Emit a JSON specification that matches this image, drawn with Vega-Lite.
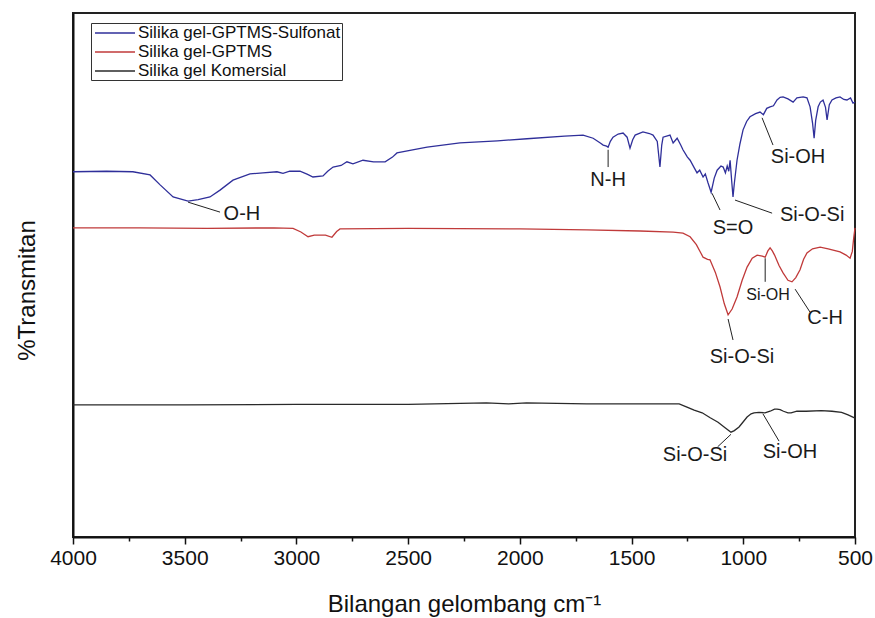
{
  "$schema": "https://vega.github.io/schema/vega-lite/v6.json",
  "width": 782,
  "height": 524,
  "autosize": "none",
  "padding": {"left": 73, "top": 13, "right": 20, "bottom": 81},
  "background": "white",
  "datasets": {
    "spectra": [
      {"series":"Silika gel-GPTMS-Sulfonat","wn":4000,"t":69.7},{"series":"Silika gel-GPTMS-Sulfonat","wn":3850,"t":69.8},{"series":"Silika gel-GPTMS-Sulfonat","wn":3732,"t":69.7},{"series":"Silika gel-GPTMS-Sulfonat","wn":3655,"t":69.1},{"series":"Silika gel-GPTMS-Sulfonat","wn":3610,"t":67.2},{"series":"Silika gel-GPTMS-Sulfonat","wn":3552,"t":64.9},{"series":"Silika gel-GPTMS-Sulfonat","wn":3485,"t":64.1},{"series":"Silika gel-GPTMS-Sulfonat","wn":3440,"t":64.4},{"series":"Silika gel-GPTMS-Sulfonat","wn":3387,"t":64.9},{"series":"Silika gel-GPTMS-Sulfonat","wn":3342,"t":66.2},{"series":"Silika gel-GPTMS-Sulfonat","wn":3284,"t":68.1},{"series":"Silika gel-GPTMS-Sulfonat","wn":3208,"t":69.3},{"series":"Silika gel-GPTMS-Sulfonat","wn":3150,"t":69.5},{"series":"Silika gel-GPTMS-Sulfonat","wn":3087,"t":69.7},{"series":"Silika gel-GPTMS-Sulfonat","wn":3060,"t":69.4},{"series":"Silika gel-GPTMS-Sulfonat","wn":3030,"t":69.8},{"series":"Silika gel-GPTMS-Sulfonat","wn":2984,"t":69.8},{"series":"Silika gel-GPTMS-Sulfonat","wn":2950,"t":69.2},{"series":"Silika gel-GPTMS-Sulfonat","wn":2926,"t":68.7},{"series":"Silika gel-GPTMS-Sulfonat","wn":2881,"t":68.9},{"series":"Silika gel-GPTMS-Sulfonat","wn":2860,"t":69.8},{"series":"Silika gel-GPTMS-Sulfonat","wn":2836,"t":70.6},{"series":"Silika gel-GPTMS-Sulfonat","wn":2800,"t":70.9},{"series":"Silika gel-GPTMS-Sulfonat","wn":2774,"t":71.6},{"series":"Silika gel-GPTMS-Sulfonat","wn":2747,"t":71.2},{"series":"Silika gel-GPTMS-Sulfonat","wn":2702,"t":71.9},{"series":"Silika gel-GPTMS-Sulfonat","wn":2655,"t":71.6},{"series":"Silika gel-GPTMS-Sulfonat","wn":2603,"t":71.6},{"series":"Silika gel-GPTMS-Sulfonat","wn":2570,"t":72.5},{"series":"Silika gel-GPTMS-Sulfonat","wn":2550,"t":73.3},{"series":"Silika gel-GPTMS-Sulfonat","wn":2480,"t":73.9},{"series":"Silika gel-GPTMS-Sulfonat","wn":2415,"t":74.4},{"series":"Silika gel-GPTMS-Sulfonat","wn":2268,"t":75.2},{"series":"Silika gel-GPTMS-Sulfonat","wn":2100,"t":75.6},{"series":"Silika gel-GPTMS-Sulfonat","wn":1968,"t":76.0},{"series":"Silika gel-GPTMS-Sulfonat","wn":1800,"t":76.5},{"series":"Silika gel-GPTMS-Sulfonat","wn":1717,"t":76.7},{"series":"Silika gel-GPTMS-Sulfonat","wn":1672,"t":76.1},{"series":"Silika gel-GPTMS-Sulfonat","wn":1640,"t":75.2},{"series":"Silika gel-GPTMS-Sulfonat","wn":1627,"t":74.8},{"series":"Silika gel-GPTMS-Sulfonat","wn":1612,"t":74.6},{"series":"Silika gel-GPTMS-Sulfonat","wn":1605,"t":74.4},{"series":"Silika gel-GPTMS-Sulfonat","wn":1595,"t":75.5},{"series":"Silika gel-GPTMS-Sulfonat","wn":1583,"t":76.3},{"series":"Silika gel-GPTMS-Sulfonat","wn":1560,"t":76.9},{"series":"Silika gel-GPTMS-Sulfonat","wn":1538,"t":77.1},{"series":"Silika gel-GPTMS-Sulfonat","wn":1520,"t":76.3},{"series":"Silika gel-GPTMS-Sulfonat","wn":1507,"t":74.2},{"series":"Silika gel-GPTMS-Sulfonat","wn":1495,"t":75.8},{"series":"Silika gel-GPTMS-Sulfonat","wn":1484,"t":76.7},{"series":"Silika gel-GPTMS-Sulfonat","wn":1449,"t":77.3},{"series":"Silika gel-GPTMS-Sulfonat","wn":1420,"t":77.0},{"series":"Silika gel-GPTMS-Sulfonat","wn":1404,"t":76.7},{"series":"Silika gel-GPTMS-Sulfonat","wn":1385,"t":75.5},{"series":"Silika gel-GPTMS-Sulfonat","wn":1373,"t":70.6},{"series":"Silika gel-GPTMS-Sulfonat","wn":1365,"t":74.8},{"series":"Silika gel-GPTMS-Sulfonat","wn":1359,"t":76.3},{"series":"Silika gel-GPTMS-Sulfonat","wn":1328,"t":76.7},{"series":"Silika gel-GPTMS-Sulfonat","wn":1314,"t":75.2},{"series":"Silika gel-GPTMS-Sulfonat","wn":1296,"t":76.1},{"series":"Silika gel-GPTMS-Sulfonat","wn":1280,"t":74.8},{"series":"Silika gel-GPTMS-Sulfonat","wn":1270,"t":73.9},{"series":"Silika gel-GPTMS-Sulfonat","wn":1250,"t":72.5},{"series":"Silika gel-GPTMS-Sulfonat","wn":1238,"t":71.9},{"series":"Silika gel-GPTMS-Sulfonat","wn":1220,"t":70.5},{"series":"Silika gel-GPTMS-Sulfonat","wn":1207,"t":69.5},{"series":"Silika gel-GPTMS-Sulfonat","wn":1195,"t":70.0},{"series":"Silika gel-GPTMS-Sulfonat","wn":1180,"t":68.7},{"series":"Silika gel-GPTMS-Sulfonat","wn":1170,"t":69.3},{"series":"Silika gel-GPTMS-Sulfonat","wn":1158,"t":67.6},{"series":"Silika gel-GPTMS-Sulfonat","wn":1144,"t":65.8},{"series":"Silika gel-GPTMS-Sulfonat","wn":1130,"t":68.5},{"series":"Silika gel-GPTMS-Sulfonat","wn":1117,"t":70.0},{"series":"Silika gel-GPTMS-Sulfonat","wn":1100,"t":70.8},{"series":"Silika gel-GPTMS-Sulfonat","wn":1090,"t":70.6},{"series":"Silika gel-GPTMS-Sulfonat","wn":1080,"t":69.5},{"series":"Silika gel-GPTMS-Sulfonat","wn":1072,"t":70.8},{"series":"Silika gel-GPTMS-Sulfonat","wn":1065,"t":69.8},{"series":"Silika gel-GPTMS-Sulfonat","wn":1059,"t":71.9},{"series":"Silika gel-GPTMS-Sulfonat","wn":1052,"t":68.0},{"series":"Silika gel-GPTMS-Sulfonat","wn":1046,"t":64.9},{"series":"Silika gel-GPTMS-Sulfonat","wn":1040,"t":67.5},{"series":"Silika gel-GPTMS-Sulfonat","wn":1028,"t":71.9},{"series":"Silika gel-GPTMS-Sulfonat","wn":1015,"t":75.0},{"series":"Silika gel-GPTMS-Sulfonat","wn":1001,"t":77.7},{"series":"Silika gel-GPTMS-Sulfonat","wn":985,"t":79.3},{"series":"Silika gel-GPTMS-Sulfonat","wn":970,"t":80.2},{"series":"Silika gel-GPTMS-Sulfonat","wn":945,"t":80.8},{"series":"Silika gel-GPTMS-Sulfonat","wn":925,"t":81.1},{"series":"Silika gel-GPTMS-Sulfonat","wn":910,"t":80.6},{"series":"Silika gel-GPTMS-Sulfonat","wn":895,"t":81.8},{"series":"Silika gel-GPTMS-Sulfonat","wn":880,"t":82.1},{"series":"Silika gel-GPTMS-Sulfonat","wn":865,"t":82.3},{"series":"Silika gel-GPTMS-Sulfonat","wn":849,"t":83.4},{"series":"Silika gel-GPTMS-Sulfonat","wn":835,"t":83.9},{"series":"Silika gel-GPTMS-Sulfonat","wn":822,"t":84.0},{"series":"Silika gel-GPTMS-Sulfonat","wn":800,"t":83.6},{"series":"Silika gel-GPTMS-Sulfonat","wn":777,"t":83.0},{"series":"Silika gel-GPTMS-Sulfonat","wn":760,"t":83.8},{"series":"Silika gel-GPTMS-Sulfonat","wn":732,"t":84.0},{"series":"Silika gel-GPTMS-Sulfonat","wn":715,"t":83.8},{"series":"Silika gel-GPTMS-Sulfonat","wn":701,"t":82.1},{"series":"Silika gel-GPTMS-Sulfonat","wn":690,"t":79.0},{"series":"Silika gel-GPTMS-Sulfonat","wn":683,"t":76.1},{"series":"Silika gel-GPTMS-Sulfonat","wn":676,"t":79.5},{"series":"Silika gel-GPTMS-Sulfonat","wn":665,"t":82.1},{"series":"Silika gel-GPTMS-Sulfonat","wn":655,"t":83.0},{"series":"Silika gel-GPTMS-Sulfonat","wn":643,"t":83.4},{"series":"Silika gel-GPTMS-Sulfonat","wn":632,"t":82.0},{"series":"Silika gel-GPTMS-Sulfonat","wn":625,"t":79.6},{"series":"Silika gel-GPTMS-Sulfonat","wn":615,"t":82.5},{"series":"Silika gel-GPTMS-Sulfonat","wn":603,"t":83.4},{"series":"Silika gel-GPTMS-Sulfonat","wn":585,"t":83.8},{"series":"Silika gel-GPTMS-Sulfonat","wn":567,"t":84.0},{"series":"Silika gel-GPTMS-Sulfonat","wn":550,"t":83.5},{"series":"Silika gel-GPTMS-Sulfonat","wn":536,"t":83.4},{"series":"Silika gel-GPTMS-Sulfonat","wn":520,"t":83.8},{"series":"Silika gel-GPTMS-Sulfonat","wn":509,"t":82.8},{"series":"Silika gel-GPTMS-Sulfonat","wn":500,"t":83.0},
      {"series":"Silika gel-GPTMS","wn":4000,"t":59.0},{"series":"Silika gel-GPTMS","wn":3700,"t":59.0},{"series":"Silika gel-GPTMS","wn":3400,"t":58.9},{"series":"Silika gel-GPTMS","wn":3100,"t":59.0},{"series":"Silika gel-GPTMS","wn":3015,"t":58.9},{"series":"Silika gel-GPTMS","wn":2980,"t":58.2},{"series":"Silika gel-GPTMS","wn":2948,"t":57.3},{"series":"Silika gel-GPTMS","wn":2920,"t":57.6},{"series":"Silika gel-GPTMS","wn":2894,"t":57.6},{"series":"Silika gel-GPTMS","wn":2870,"t":57.6},{"series":"Silika gel-GPTMS","wn":2841,"t":57.2},{"series":"Silika gel-GPTMS","wn":2820,"t":58.3},{"series":"Silika gel-GPTMS","wn":2805,"t":58.8},{"series":"Silika gel-GPTMS","wn":2500,"t":58.9},{"series":"Silika gel-GPTMS","wn":2000,"t":58.8},{"series":"Silika gel-GPTMS","wn":1700,"t":58.6},{"series":"Silika gel-GPTMS","wn":1462,"t":58.4},{"series":"Silika gel-GPTMS","wn":1314,"t":58.2},{"series":"Silika gel-GPTMS","wn":1270,"t":58.0},{"series":"Silika gel-GPTMS","wn":1238,"t":57.3},{"series":"Silika gel-GPTMS","wn":1210,"t":55.8},{"series":"Silika gel-GPTMS","wn":1190,"t":54.2},{"series":"Silika gel-GPTMS","wn":1180,"t":53.4},{"series":"Silika gel-GPTMS","wn":1160,"t":53.0},{"series":"Silika gel-GPTMS","wn":1149,"t":52.9},{"series":"Silika gel-GPTMS","wn":1125,"t":50.5},{"series":"Silika gel-GPTMS","wn":1104,"t":47.7},{"series":"Silika gel-GPTMS","wn":1085,"t":44.5},{"series":"Silika gel-GPTMS","wn":1068,"t":42.4},{"series":"Silika gel-GPTMS","wn":1050,"t":43.5},{"series":"Silika gel-GPTMS","wn":1028,"t":45.8},{"series":"Silika gel-GPTMS","wn":1005,"t":49.0},{"series":"Silika gel-GPTMS","wn":983,"t":51.5},{"series":"Silika gel-GPTMS","wn":960,"t":53.2},{"series":"Silika gel-GPTMS","wn":938,"t":53.8},{"series":"Silika gel-GPTMS","wn":915,"t":53.6},{"series":"Silika gel-GPTMS","wn":902,"t":53.4},{"series":"Silika gel-GPTMS","wn":890,"t":54.6},{"series":"Silika gel-GPTMS","wn":880,"t":55.2},{"series":"Silika gel-GPTMS","wn":870,"t":54.6},{"series":"Silika gel-GPTMS","wn":860,"t":53.8},{"series":"Silika gel-GPTMS","wn":840,"t":51.8},{"series":"Silika gel-GPTMS","wn":822,"t":50.4},{"series":"Silika gel-GPTMS","wn":800,"t":49.0},{"series":"Silika gel-GPTMS","wn":782,"t":48.7},{"series":"Silika gel-GPTMS","wn":765,"t":49.5},{"series":"Silika gel-GPTMS","wn":746,"t":51.0},{"series":"Silika gel-GPTMS","wn":730,"t":53.0},{"series":"Silika gel-GPTMS","wn":715,"t":54.2},{"series":"Silika gel-GPTMS","wn":690,"t":55.0},{"series":"Silika gel-GPTMS","wn":656,"t":55.3},{"series":"Silika gel-GPTMS","wn":620,"t":55.0},{"series":"Silika gel-GPTMS","wn":567,"t":54.4},{"series":"Silika gel-GPTMS","wn":540,"t":53.8},{"series":"Silika gel-GPTMS","wn":522,"t":53.2},{"series":"Silika gel-GPTMS","wn":512,"t":54.5},{"series":"Silika gel-GPTMS","wn":506,"t":57.0},{"series":"Silika gel-GPTMS","wn":500,"t":59.0},
      {"series":"Silika gel Komersial","wn":4000,"t":25.2},{"series":"Silika gel Komersial","wn":3500,"t":25.2},{"series":"Silika gel Komersial","wn":3000,"t":25.3},{"series":"Silika gel Komersial","wn":2500,"t":25.3},{"series":"Silika gel Komersial","wn":2150,"t":25.6},{"series":"Silika gel Komersial","wn":2050,"t":25.4},{"series":"Silika gel Komersial","wn":1970,"t":25.6},{"series":"Silika gel Komersial","wn":1700,"t":25.4},{"series":"Silika gel Komersial","wn":1287,"t":25.4},{"series":"Silika gel Komersial","wn":1252,"t":24.8},{"series":"Silika gel Komersial","wn":1220,"t":24.2},{"series":"Silika gel Komersial","wn":1184,"t":23.7},{"series":"Silika gel Komersial","wn":1150,"t":22.8},{"series":"Silika gel Komersial","wn":1113,"t":21.9},{"series":"Silika gel Komersial","wn":1080,"t":20.8},{"series":"Silika gel Komersial","wn":1055,"t":20.0},{"series":"Silika gel Komersial","wn":1040,"t":20.3},{"series":"Silika gel Komersial","wn":1019,"t":21.0},{"series":"Silika gel Komersial","wn":1000,"t":22.0},{"series":"Silika gel Komersial","wn":983,"t":22.9},{"series":"Silika gel Komersial","wn":965,"t":23.5},{"series":"Silika gel Komersial","wn":952,"t":23.7},{"series":"Silika gel Komersial","wn":930,"t":23.8},{"series":"Silika gel Komersial","wn":903,"t":23.7},{"series":"Silika gel Komersial","wn":880,"t":24.0},{"series":"Silika gel Komersial","wn":860,"t":24.4},{"series":"Silika gel Komersial","wn":849,"t":24.4},{"series":"Silika gel Komersial","wn":835,"t":24.3},{"series":"Silika gel Komersial","wn":820,"t":24.0},{"series":"Silika gel Komersial","wn":800,"t":23.7},{"series":"Silika gel Komersial","wn":786,"t":23.7},{"series":"Silika gel Komersial","wn":760,"t":24.0},{"series":"Silika gel Komersial","wn":719,"t":24.0},{"series":"Silika gel Komersial","wn":650,"t":24.1},{"series":"Silika gel Komersial","wn":603,"t":24.0},{"series":"Silika gel Komersial","wn":560,"t":23.8},{"series":"Silika gel Komersial","wn":531,"t":23.3},{"series":"Silika gel Komersial","wn":500,"t":22.7}
    ],
    "labels": [
      {"series":"Sulfonat","label":"O-H","wn":3244,"t":61.6},
      {"series":"Sulfonat","label":"N-H","wn":1605,"t":68.1},
      {"series":"Sulfonat","label":"S=O","wn":1046,"t":59.0},
      {"series":"Sulfonat","label":"Si-O-Si","wn":692,"t":61.5},
      {"series":"Sulfonat","label":"Si-OH","wn":755,"t":72.5},
      {"series":"GPTMS","label":"Si-O-Si","wn":1006,"t":34.4},
      {"series":"GPTMS","label":"Si-OH","wn":889,"t":46.2},
      {"series":"GPTMS","label":"C-H","wn":634,"t":41.8},
      {"series":"Komersial","label":"Si-O-Si","wn":1216,"t":15.6},
      {"series":"Komersial","label":"Si-OH","wn":791,"t":16.2}
    ],
    "leaders": [
      {"wn":3485,"t":63.9,"wn2":3342,"t2":62.0},
      {"wn":1605,"t":73.9,"wn2":1605,"t2":70.6},
      {"wn":1140,"t":65.6,"wn2":1104,"t2":62.4},
      {"wn":1037,"t":64.3,"wn2":871,"t2":61.8},
      {"wn":916,"t":80.0,"wn2":867,"t2":74.8},
      {"wn":1068,"t":41.6,"wn2":1046,"t2":37.6},
      {"wn":902,"t":53.2,"wn2":902,"t2":48.7},
      {"wn":768,"t":47.3,"wn2":701,"t2":42.9},
      {"wn":1055,"t":19.6,"wn2":1115,"t2":17.2},
      {"wn":912,"t":23.5,"wn2":840,"t2":18.3}
    ]
  },
  "encoding": {
    "x": {
      "field": "wn",
      "type": "quantitative",
      "scale": {"domain": [4000, 500], "nice": false, "zero": false},
      "axis": {
        "values": [4000,3750,3500,3250,3000,2750,2500,2250,2000,1750,1500,1250,1000,750,500],
        "format": "d",
        "tickSize": {"condition": {"test": "datum.value % 500 === 0", "value": 7}, "value": 4},
        "labelExpr": "datum.value % 500 === 0 ? datum.label : ''",
        "labelFontSize": 21,
        "labelPadding": 3,
        "labelFlush": false,
        "labelOverlap": false,
        "title": "Bilangan gelombang cm⁻¹",
        "titleFontSize": 24,
        "titleBaseline": "alphabetic",
        "titleY": 74
      }
    },
    "y": {
      "field": "t",
      "type": "quantitative",
      "scale": {"domain": [0, 100], "nice": false, "zero": false},
      "axis": {
        "title": "%Transmitan",
        "ticks": false,
        "labels": false,
        "titleFontSize": 24,
        "titleAngle": -90,
        "titleX": -46,
        "titleY": 277,
        "titleAlign": "center",
        "titleBaseline": "middle"
      }
    }
  },
  "layer": [
    {
      "data": {"name": "spectra"},
      "mark": {"type": "line", "strokeWidth": 1.3},
      "encoding": {
        "color": {
          "field": "series",
          "type": "nominal",
          "scale": {
            "domain": ["Silika gel-GPTMS-Sulfonat", "Silika gel-GPTMS", "Silika gel Komersial"],
            "range": ["#2f2f9a", "#c03a3a", "#2a2a2a"]
          },
          "legend": {
            "title": null,
            "orient": "none",
            "legendX": 18,
            "legendY": 10,
            "symbolType": "M-0.75,0H4.25",
            "symbolSize": 256,
            "symbolStrokeWidth": 1.5,
            "labelFontSize": 17,
            "labelColor": "#111",
            "labelOffset": 28,
            "labelLimit": 400,
            "rowPadding": 2,
            "padding": 1,
            "strokeColor": "#333",
            "fillColor": "white"
          }
        }
      }
    },
    {
      "data": {"name": "leaders"},
      "mark": {"type": "rule", "color": "#222", "strokeWidth": 1},
      "encoding": {
        "x2": {"field": "wn2"},
        "y2": {"field": "t2"}
      }
    },
    {
      "data": {"name": "labels"},
      "transform": [{"filter": "!(datum.series === 'GPTMS' && datum.label === 'Si-OH')"}],
      "mark": {"type": "text", "fontSize": 20, "color": "#1a1a1a", "align": "center", "baseline": "middle"},
      "encoding": {"text": {"field": "label"}}
    },
    {
      "data": {"name": "labels"},
      "transform": [{"filter": "datum.series === 'GPTMS' && datum.label === 'Si-OH'"}],
      "mark": {"type": "text", "fontSize": 16, "color": "#1a1a1a", "align": "center", "baseline": "middle"},
      "encoding": {"text": {"field": "label"}}
    }
  ],
  "config": {
    "font": "Liberation Sans",
    "view": {"stroke": "#222", "strokeWidth": 2},
    "axis": {
      "domainColor": "#111",
      "domainWidth": 2,
      "tickColor": "#111",
      "tickWidth": 1.5,
      "labelColor": "#111",
      "titleColor": "#111",
      "grid": false,
      "labelFont": "Liberation Sans",
      "titleFont": "Liberation Sans",
      "titleFontWeight": "normal"
    }
  }
}
